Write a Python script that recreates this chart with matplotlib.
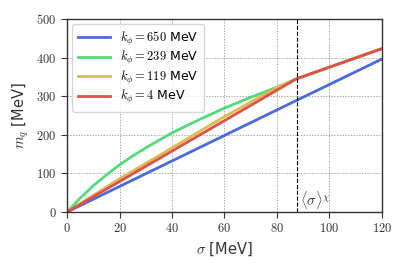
import numpy as np
import matplotlib
matplotlib.use("Agg")
import matplotlib.pyplot as plt
from matplotlib.ticker import FuncFormatter

plt.rcParams['mathtext.fontset'] = 'cm'
plt.rcParams['font.family'] = ['DejaVu Sans']

# -------------------------------------------------
# Datos
# -------------------------------------------------

sigma_vac = 87.5

sigma_650 = [0, 87.5, 120]
mq_650 = [0, 289, 396]

sigma_239 = [0, 2.5, 5, 10, 15, 20, 25, 30, 40, 50, 60, 70, 80, 87.5, 120]
mq_239 = [0, 18, 36, 68, 96, 122, 145, 166, 205, 238, 269, 297, 323, 345, 423]

sigma_119 = [0, 20, 40, 60, 80, 87.5, 120]
mq_119 = [0, 86, 166, 247, 322, 345, 423]

sigma_4 = [0, 87.5, 120]
mq_4 = [0, 345, 423]

labels = [r'$k_\phi = 650$ MeV', r'$k_\phi = 239$ MeV',
          r'$k_\phi = 119$ MeV', r'$k_\phi = 4$ MeV']
colors = ['#4a6ae0', '#50dc78', '#dcbc50', '#e0504a']

# -------------------------------------------------
# Plot
# -------------------------------------------------

fig = plt.figure(figsize=(4.07, 2.71), dpi=100)
ax = fig.add_axes([0.165, 0.218, 0.773, 0.712])

ax.plot(sigma_650, mq_650, color=colors[0], lw=2, label=labels[0])
ax.plot(sigma_239, mq_239, color=colors[1], lw=2, label=labels[1])
ax.plot(sigma_119, mq_119, color=colors[2], lw=2, label=labels[2])
ax.plot(sigma_4, mq_4, color=colors[3], lw=2, label=labels[3])

ax.axvline(sigma_vac, color='k', ls='--', lw=0.8)
ax.text(sigma_vac + 1.5, 15, r'$\langle\sigma\rangle^\chi$', fontsize=10.5,
        color='#333333')

ax.set_xlim(0, 120)
ax.set_ylim(0, 500)
ax.set_xticks(np.arange(0, 121, 20))
ax.set_yticks(np.arange(0, 501, 100))
fmt = FuncFormatter(lambda v, p: r'$%d$' % v)
ax.xaxis.set_major_formatter(fmt)
ax.yaxis.set_major_formatter(fmt)
ax.tick_params(labelsize=9, length=4, width=0.8, colors='#333333')
for s in ax.spines.values():
    s.set_color('#333333')
    s.set_linewidth(1.0)

ax.grid(True, color='#888888', ls=(0, (2, 2)), lw=0.5)
ax.set_xlabel(r'$\sigma$ [MeV]', fontsize=10.5, color='#333333')
ax.set_ylabel(r'$m_q$ [MeV]', fontsize=10.5, color='#333333')

ax.legend(loc='upper left', fontsize=9, handlelength=2.6, borderpad=0.45,
          labelspacing=0.12, framealpha=0.8, borderaxespad=0.4)

fig.savefig('out.png', dpi=100)
